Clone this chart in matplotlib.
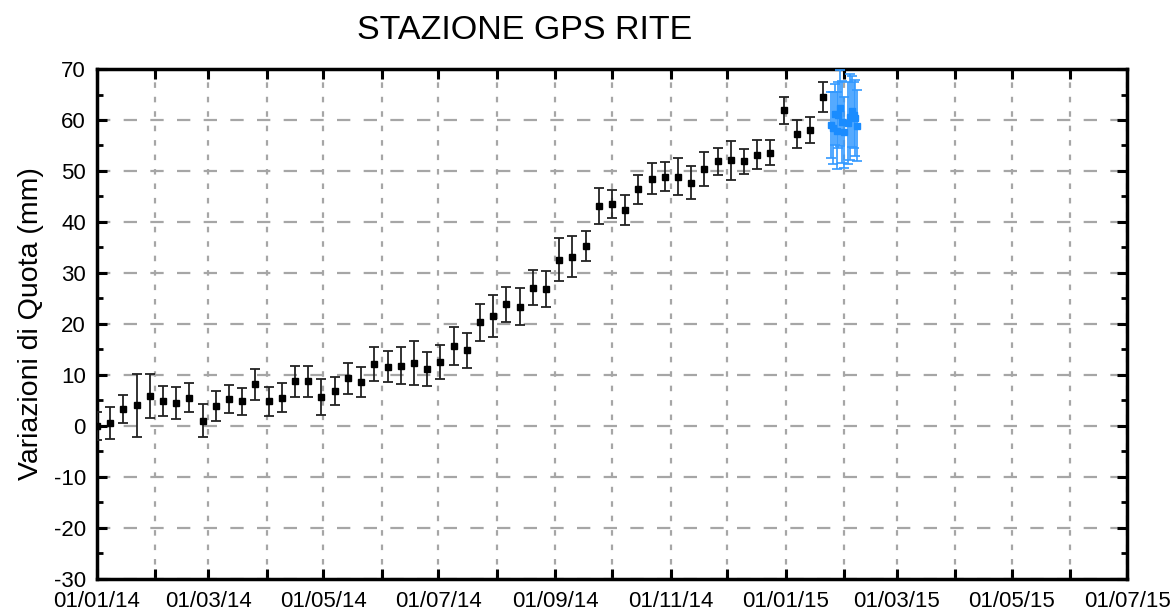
import numpy as np
import pandas as pd
import matplotlib
matplotlib.use("Agg")
import matplotlib.pyplot as plt
import matplotlib.dates as mdates
from matplotlib.ticker import MultipleLocator, FuncFormatter

plt.rcParams["font.family"] = ["Liberation Sans", "DejaVu Sans"]
plt.rcParams["axes.unicode_minus"] = False

# Weekly GPS solutions (black)
week_start = "2014-01-01"
n_weeks = 56
quota = [0.0, 0.6, 3.3, 4.0, 5.9, 4.9, 4.5, 5.5, 1.0, 3.9,
         5.3, 4.8, 8.1, 4.8, 5.5, 8.7, 8.7, 5.6, 6.8, 9.3,
         8.6, 12.1, 11.6, 11.8, 12.3, 11.2, 12.5, 15.6, 14.8, 20.3,
         21.5, 23.8, 23.4, 27.1, 26.8, 32.6, 33.2, 35.3, 43.1, 43.5,
         42.3, 46.4, 48.5, 48.9, 48.9, 47.7, 50.4, 51.9, 52.1, 51.9,
         53.2, 53.6, 61.9, 57.3, 58.0, 64.5]
quota_err = [2.8, 3.1, 2.8, 6.2, 4.3, 3.0, 3.1, 2.8, 3.3, 3.0,
             2.7, 2.6, 3.0, 2.8, 2.8, 3.1, 3.0, 3.5, 2.8, 3.1,
             3.0, 3.3, 3.0, 3.6, 4.3, 3.3, 3.4, 3.7, 3.5, 3.6,
             4.1, 3.5, 3.7, 3.4, 3.5, 4.2, 4.1, 3.0, 3.6, 2.8,
             2.9, 2.9, 3.0, 2.8, 3.7, 3.3, 3.4, 2.7, 3.8, 2.4,
             2.8, 2.4, 2.7, 2.7, 2.6, 3.0]

# Daily solutions (blue)
daily_dates = ["2015-01-25", "2015-01-26", "2015-01-27", "2015-01-28",
               "2015-01-29", "2015-01-30", "2015-01-31", "2015-02-01",
               "2015-02-03", "2015-02-04", "2015-02-05", "2015-02-06",
               "2015-02-07", "2015-02-08"]
daily_quota = [59.0, 58.4, 61.1, 57.9, 61.0, 62.4, 59.6, 57.6,
               59.4, 60.6, 61.7, 61.0, 60.4, 58.9]
daily_err = [6.5, 7.0, 6.0, 7.5, 6.5, 7.5, 8.0, 7.0,
             8.0, 8.5, 7.0, 6.5, 7.5, 7.0]

weeks = pd.date_range(week_start, periods=n_weeks, freq="7D")
days = pd.to_datetime(daily_dates)

fig = plt.figure(figsize=(11.7, 6.13), dpi=100)
ax = fig.add_axes([0.0829, 0.056, 0.8804, 0.8314])

ax.errorbar(weeks, quota, yerr=quota_err, fmt="s", color="black",
            ecolor="#222222", elinewidth=1.3, capsize=3.5, capthick=1.3,
            markersize=4.8, zorder=3)
ax.errorbar(days, daily_quota, yerr=daily_err, fmt="s", color="#1a8cff",
            ecolor="#3399ff", elinewidth=1.2, capsize=3.5, capthick=1.2,
            markersize=4.8, zorder=3)

ax.set_xlim(pd.Timestamp("2014-01-01"), pd.Timestamp("2015-07-01"))
ax.set_ylim(-30, 70)

# ticks
ax.xaxis.set_major_locator(mdates.MonthLocator())
ax.xaxis.set_major_formatter(FuncFormatter(
    lambda v, p: mdates.num2date(v).strftime("%d/%m/%y")
    if mdates.num2date(v).month % 2 == 1 else ""))
ax.yaxis.set_major_locator(MultipleLocator(10))
ax.yaxis.set_minor_locator(MultipleLocator(5))
ax.tick_params(which="major", direction="in", length=7, width=2.2,
               top=True, right=True, labelsize=16)
ax.tick_params(which="minor", direction="in", length=4, width=2,
               top=False, right=True)
ax.tick_params(axis="x", pad=9)
ax.tick_params(axis="y", pad=8)

for s in ax.spines.values():
    s.set_linewidth(2.5)

# grid
ax.grid(axis="y", which="major", color="#a6a6a6", linewidth=1.6,
        linestyle=(0, (6, 6)))
ax.grid(axis="x", which="major", color="#a6a6a6", linewidth=1.6,
        linestyle=(0, (2.5, 4)))
ax.set_axisbelow(True)

ax.set_ylabel("Variazioni di Quota (mm)", fontsize=20.5, labelpad=7)
fig.text(0.448, 0.95, "STAZIONE GPS RITE", fontsize=24.5, ha="center",
         va="center")

fig.savefig("out.png", dpi=100)
